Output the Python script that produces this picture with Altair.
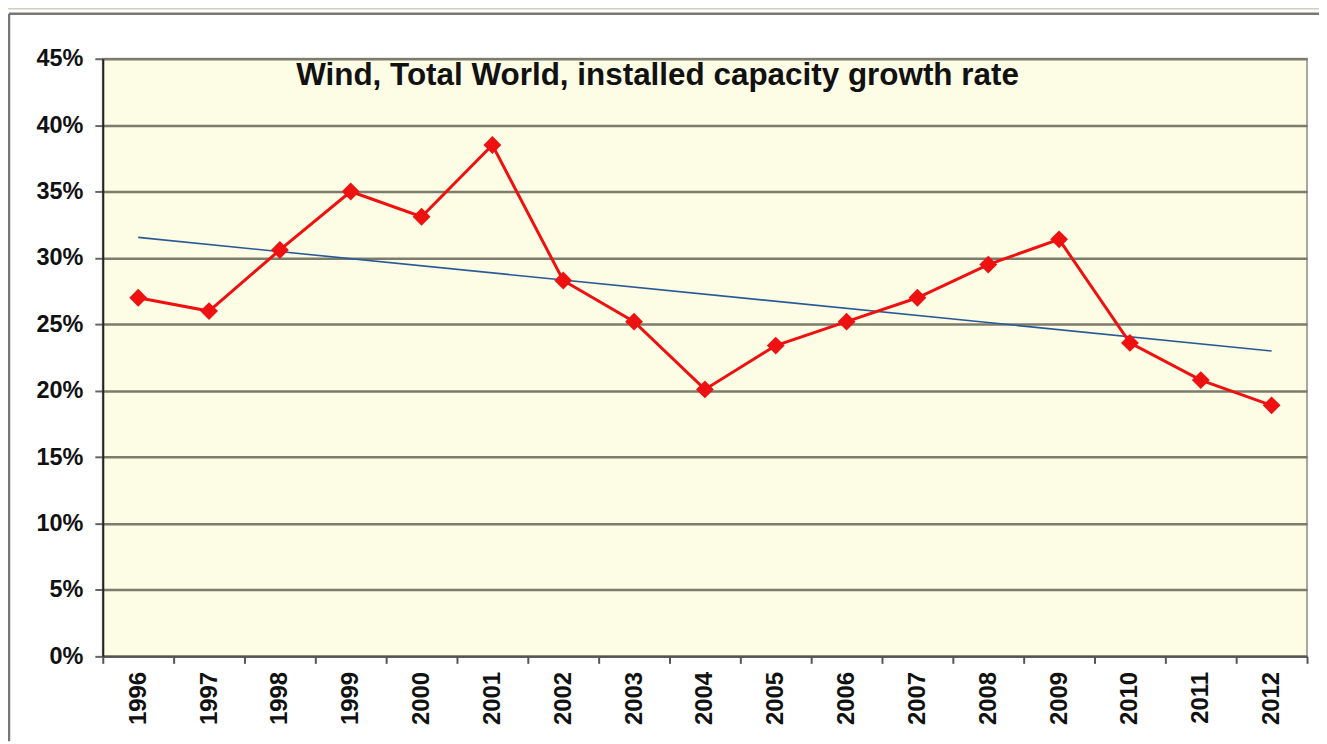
import altair as alt
import pandas as pd

years = [str(y) for y in range(1996, 2013)]
growth = [27.0, 26.0, 30.6, 35.0, 33.1, 38.5, 28.3, 25.2, 20.1, 23.4,
          25.2, 27.0, 29.5, 31.4, 23.6, 20.8, 18.9]
title_text = "Wind, Total World, installed capacity growth rate"
y_ticks = [0, 0.05, 0.10, 0.15, 0.20, 0.25, 0.30, 0.35, 0.40, 0.45]

df = pd.DataFrame({"year": years, "rate": [g / 100 for g in growth],
                   "idx": list(range(len(years)))})

W, H = 1207, 599
FONT = "Liberation Sans"

x_enc = alt.X("year:O", scale=alt.Scale(paddingInner=0, paddingOuter=0),
              axis=alt.Axis(title=None, labelAngle=-90, labelAlign="right",
                            labelBaseline="middle", labelFont=FONT,
                            labelFontSize=24, labelFontWeight="bold",
                            labelColor="#111", labelPadding=8,
                            tickBand="extent", tickSize=7, tickWidth=2,
                            tickColor="#555", domainColor="#555",
                            domainWidth=2, grid=False))
y_enc = alt.Y("rate:Q", scale=alt.Scale(domain=[0, 0.45], nice=False),
              axis=alt.Axis(title=None, values=y_ticks, format=".0%",
                            labelFont=FONT, labelFontSize=23.5,
                            labelFontWeight="bold", labelColor="#111",
                            labelPadding=12, tickSize=8, tickWidth=2,
                            tickColor="#666", domainColor="#222",
                            domainWidth=2, grid=True, gridColor="#7c7c6c",
                            gridWidth=2.5))

base = alt.Chart(df)

line = base.mark_line(color="#ee1111", strokeWidth=3).encode(x=x_enc, y=y_enc)
pts = base.mark_point(shape="diamond", filled=True, size=320, color="#ee1111",
                      opacity=1).encode(x="year:O", y="rate:Q")

trend = base.transform_regression("idx", "rate", method="linear").transform_calculate(
    year="toString(datum.idx + 1996)"
).mark_line(color="#2a5a96", strokeWidth=1.6).encode(x="year:O", y="rate:Q")

title = alt.Chart(pd.DataFrame({"t": [title_text]})).mark_text(
    font=FONT, fontSize=31.5, fontWeight="bold", color="#111",
    align="center", baseline="middle"
).encode(text="t:N", x=alt.value(556), y=alt.value(17))

one = pd.DataFrame({"a": [0]})
frame_top = alt.Chart(one).mark_rule(color="#777", strokeWidth=2.5).encode(
    x=alt.value(-94), x2=alt.value(W + 12), y=alt.value(-45))
frame_left = alt.Chart(one).mark_rule(color="#777", strokeWidth=2.5).encode(
    x=alt.value(-94), y=alt.value(-45), y2=alt.value(H + 85))
outer_top = alt.Chart(one).mark_rule(color="#d0d0b8", strokeWidth=1.5).encode(
    x=alt.value(-95), x2=alt.value(W + 12), y=alt.value(-50))

chart = alt.layer(outer_top, frame_top, frame_left, trend, line, pts, title).properties(
    width=W, height=H,
    autosize=alt.AutoSizeParams(type="none"),
    padding={"left": 95, "top": 50, "right": 12, "bottom": 85},
    background="white"
).configure_view(fill="#fdfce4", stroke="#a8a8a0", strokeWidth=2)

chart.save("out.html", embed_options={"renderer": "svg", "actions": False})
